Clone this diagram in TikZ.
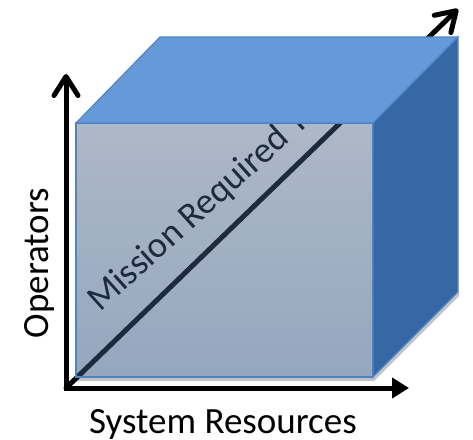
\documentclass[tikz,border=0pt]{standalone}
\usepackage{fontspec}
\setmainfont{Carlito}
\usetikzlibrary{arrows.meta,calc}
\definecolor{frontTop}{HTML}{ADB8C8}
\definecolor{frontBot}{HTML}{95A7BE}
\definecolor{topFace}{HTML}{6699D7}
\definecolor{rightFace}{HTML}{3568A5}
\definecolor{edgeBlue}{HTML}{4F84C6}
\definecolor{navyLine}{HTML}{1E2A3E}
\definecolor{shadowGray}{HTML}{C4C4C4}
\tikzset{
  axis/.style={line width=5pt, line join=miter},
  mybarb/.tip={Straight Barb[length=19pt,width=24pt,line width=5pt,round]},
  mytri/.tip={Triangle[length=17pt,width=20pt]},
  face/.style={draw=edgeBlue, line width=1.2pt, line join=miter},
  lbl/.style={font=\fontsize{37}{40}\selectfont, inner sep=0pt},
}
\begin{document}
\begin{tikzpicture}[x=1pt,y=-1pt]
\useasboundingbox (0,0) rectangle (473,439);
% corner points
\coordinate (O) at (66,388);
\coordinate (Ytip) at (66,74);
\coordinate (Xtip) at (409,388);
\coordinate (Dtip) at (458,9);
\coordinate (FBL) at (76,377);
\coordinate (FTL) at (76,123);
\coordinate (FTR) at (373,123);
\coordinate (FBR) at (373,377);
\coordinate (BTL) at (160,37);
\coordinate (BTR) at (458,37);
\coordinate (BBR) at (458,292);
% shadow
\fill[shadowGray] ($(FBL)+(1,4)$) -- ($(FBR)+(1,4)$) -- ($(BBR)+(1,4)$) -- ($(BBR)+(1,0)$) -- ($(FBR)+(1,0)$) -- ($(FBL)+(1,0)$) -- cycle;
% axes
\draw[axis, {mybarb}-{mytri}] (Ytip) -- (O) -- (Xtip);
\draw[axis, line cap=round, -{mybarb}] (O) -- (Dtip);
% front face
\shade[top color=frontTop, bottom color=frontBot] (FTL) rectangle (FBR);
\begin{scope}
  \clip (FTL) rectangle (FBR);
  \draw[line width=5pt, navyLine] (O) -- (Dtip);
  \node[lbl, font=\fontsize{36.5}{40}\selectfont, text=navyLine, anchor=base west, rotate=42] (mrt) at (100,313) {Mission Required Training};
\end{scope}
\draw[face] (FTL) rectangle (FBR);
% top and right faces
\filldraw[face, fill=topFace] (FTL) -- (BTL) -- (BTR) -- (FTR) -- cycle;
\filldraw[face, fill=rightFace] (FTR) -- (BTR) -- (BBR) -- (FBR) -- cycle;
% axis labels
\node[lbl, anchor=base, rotate=90] (ops) at (48,263) {Operators};
\node[lbl, anchor=base west] (sys) at (89,433) {System Resources};
\end{tikzpicture}
\end{document}
